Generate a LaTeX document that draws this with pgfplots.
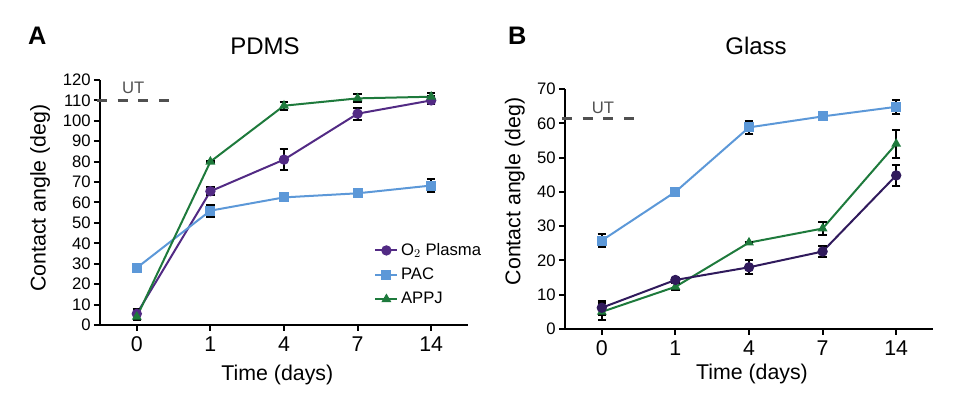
\documentclass[border=0pt]{standalone}
\usepackage{pgfplots}
\pgfplotsset{compat=1.18}
\usepackage{fontspec}
\setmainfont{Liberation Sans}
\definecolor{purA}{RGB}{82,42,132}
\definecolor{purB}{RGB}{48,26,92}
\definecolor{bluC}{RGB}{92,152,216}
\definecolor{grnC}{RGB}{30,122,60}
\definecolor{utgray}{RGB}{80,80,80}
\pgfplotsset{
  base/.style={
    scale only axis, width=276pt,
    axis x line=bottom, axis y line=left,
    axis line style={-, line width=1.5pt, black},
    xmin=-0.5, xmax=4.5, ymin=0,
    xtick={0,1,2,3,4}, xticklabels={0,1,4,7,14},
    tick align=outside, major tick length=4.5pt,
    tick style={line width=1.5pt, black},
    /pgf/number format/assume math mode=true,
    x tick label style={font=\fontsize{16}{18}\selectfont, yshift=-1pt},
    y tick label style={font=\fontsize{12.5}{14}\selectfont, xshift=1pt},
    label style={font=\fontsize{16}{18}\selectfont},
    clip=false,
    error bars/y dir=both, error bars/y explicit,
    error bars/error bar style={line width=1.5pt, black},
    error bars/error mark options={rotate=90, mark size=3.2pt, line width=1.5pt, black},
  },
  ser/.style={line width=1.5pt},
}
\begin{document}
\begin{tikzpicture}
\useasboundingbox (0,0) rectangle (716.25pt,298.5pt);
% Panel A
\begin{axis}[base, at={(75pt,54.75pt)}, anchor=south west,
  height=183.75pt, ymax=120, ytick={0,10,...,120},
  xlabel={Time (days)}, ylabel={Contact angle (deg)},
  xlabel style={at={(axis description cs:0.482,-0.204)}, anchor=center},
  ylabel style={at={(axis description cs:-0.163,0.518)}, anchor=center, rotate=0},
  legend style={at={(axis description cs:0.745,0.345)}, anchor=north west, draw=none, fill=none,
    font=\fontsize{12.5}{14}\selectfont, row sep=4pt, inner sep=0pt},
  legend cell align=left,
  legend image code/.code={\draw[#1] (0pt,0pt) -- (8pt,0pt) (8pt,0pt) -- (16.5pt,0pt); \path[#1, mark repeat=1] plot coordinates {(8.25pt,0pt)};},
]
\addplot[utgray, line width=2.2pt, dash pattern=on 7.5pt off 8pt, forget plot] coordinates {(-0.54,110) (0.48,110)};
\node[utgray, font=\fontsize{12.5}{14}\selectfont] at (axis cs:-0.05,116) {UT};
\addplot[ser, purA, mark=*, mark size=3.1pt, mark options={solid, fill=purA}] coordinates {
 (0,5.5) +- (0,2.5) (1,65.5) +- (0,2) (2,81) +- (0,5) (3,103.5) +- (0,3) (4,110) +- (0,2)};
\addlegendentry{O$_2$ Plasma}
\addplot[ser, bluC, mark=square*, mark size=3pt, mark options={solid, fill=bluC}] coordinates {
 (0,28) +- (0,0) (1,56) +- (0,3) (2,62.5) +- (0,0.8) (3,64.5) +- (0,0.8) (4,68.3) +- (0,3)};
\addlegendentry{PAC}
\addplot[ser, grnC, mark=triangle*, mark size=2.8pt, mark options={solid, fill=grnC}] coordinates {
 (0,4) +- (0,1.5) (1,80) +- (0,0.5) (2,107.4) +- (0,2) (3,111) +- (0,2) (4,111.8) +- (0,2)};
\addlegendentry{APPJ}
\end{axis}
% Panel B
\begin{axis}[base, at={(423.75pt,51.75pt)}, anchor=south west,
  height=180pt, ymax=70, ytick={0,10,...,70},
  xlabel={Time (days)}, ylabel={Contact angle (deg)},
  xlabel style={at={(axis description cs:0.508,-0.1875)}, anchor=center},
  ylabel style={at={(axis description cs:-0.136,0.573)}, anchor=center, rotate=0},
]
\addplot[utgray, line width=2.2pt, dash pattern=on 7.5pt off 8pt, forget plot] coordinates {(-0.54,61.5) (0.52,61.5)};
\node[utgray, font=\fontsize{12.5}{14}\selectfont] at (axis cs:0.016,64.4) {UT};
\addplot[ser, bluC, mark=square*, mark size=3pt, mark options={solid, fill=bluC}] coordinates {
 (0,25.8) +- (0,2) (1,40) +- (0,0.4) (2,58.8) +- (0,2) (3,62) +- (0,1) (4,64.8) +- (0,2)};
\addplot[ser, grnC, mark=triangle*, mark size=2.8pt, mark options={solid, fill=grnC}] coordinates {
 (0,5) +- (0,2.5) (1,12.3) +- (0,1) (2,25.2) +- (0,0.3) (3,29.3) +- (0,2) (4,54) +- (0,4)};
\addplot[ser, purB, mark=*, mark size=3.1pt, mark options={solid, fill=purB}] coordinates {
 (0,6.2) +- (0,2) (1,14.3) +- (0,0.5) (2,18) +- (0,2) (3,22.6) +- (0,1.5) (4,44.8) +- (0,3)};
\end{axis}
\node[font=\fontsize{18}{20}\selectfont] at (198.75pt,264pt) {PDMS};
\node[font=\fontsize{18}{20}\selectfont] at (567pt,264pt) {Glass};
\node[font=\bfseries\fontsize{19}{21}\selectfont] at (28pt,271.5pt) {A};
\node[font=\bfseries\fontsize{19}{21}\selectfont] at (388pt,272pt) {B};
\end{tikzpicture}
\end{document}
